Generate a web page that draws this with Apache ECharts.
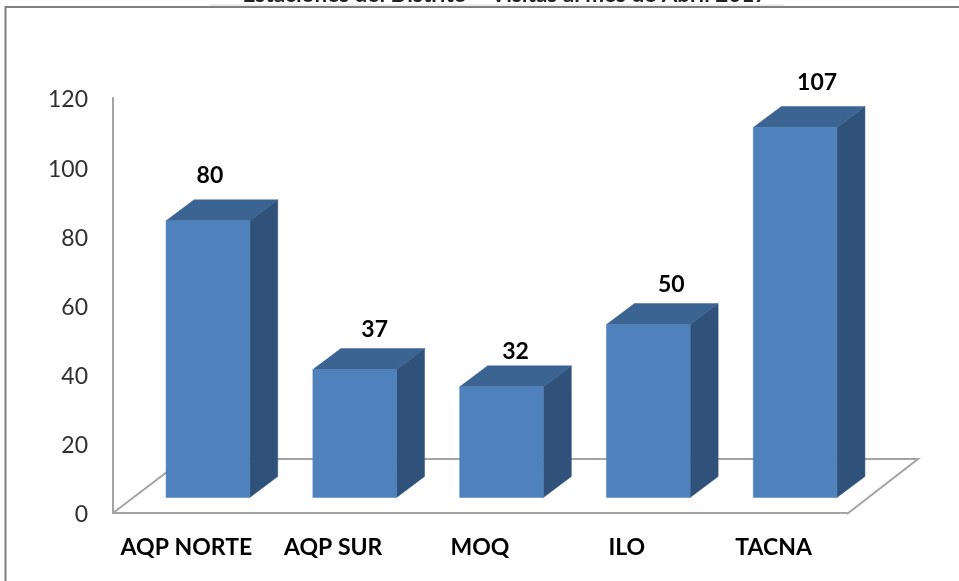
<!DOCTYPE html>
<html>
<head>
<meta charset="utf-8">
<style>html,body{margin:0;padding:0;background:#fff}#c{width:959px;height:581px}</style>
<script src="https://cdn.jsdelivr.net/npm/echarts@6/dist/echarts.min.js"></script>
</head>
<body>
<div id="c"></div>
<script>
const categories = ['AQP NORTE', 'AQP SUR', 'MOQ', 'ILO', 'TACNA'];
const values = [80, 37, 32, 50, 107];
const yTicks = {min: 0, max: 120, interval: 20};
const titleText = 'Estaciones del Distrito – Visitas al mes de Abril 2017';

// presentation constants
const FONT = 'Lato, "Open Sans", sans-serif';
const labelNudgeX = [2, 20, 14, 23, 22];
const labelGapY = [45, 40, 35, 40, 45];
const BAR_OFFSET_X = 21.5, BAR_LIFT = 15.5, BAR_RATIO = 0.57, DEPTH_X = 28, DEPTH_Y = 21;
const FLOOR_DX = 71, FLOOR_DY = 54;
const COL_FRONT = '#4f81bd', COL_TOP = '#3b6492', COL_SIDE = '#30527a';

function poly(points, fill) {
  return {type: 'polygon', shape: {points}, style: {fill, stroke: fill, lineWidth: 0.5}};
}

function renderBar(params, api) {
  const i = api.value(0), v = api.value(1);
  const top = api.coord([i, v]), base = api.coord([i, 0]);
  const w = api.size([1, 0])[0] * BAR_RATIO;
  const x0 = base[0] + BAR_OFFSET_X - w / 2, x1 = x0 + w;
  const yb = base[1] - BAR_LIFT, yt = top[1] - BAR_LIFT;
  return {
    type: 'group',
    children: [
      poly([[x1, yt], [x1 + DEPTH_X, yt - DEPTH_Y], [x1 + DEPTH_X, yb - DEPTH_Y], [x1, yb]], COL_SIDE),
      poly([[x0, yt], [x0 + DEPTH_X, yt - DEPTH_Y], [x1 + DEPTH_X, yt - DEPTH_Y], [x1, yt]], COL_TOP),
      poly([[x0, yt], [x1, yt], [x1, yb], [x0, yb]], COL_FRONT),
      {
        type: 'text',
        style: {
          text: String(v),
          x: base[0] + BAR_OFFSET_X + labelNudgeX[i],
          y: yt - labelGapY[i],
          align: 'center', verticalAlign: 'middle',
          font: 'bold 23px ' + FONT,
          fill: '#000'
        }
      }
    ]
  };
}

function renderFloor(params) {
  const c = params.coordSys;
  const xl = c.x, xr = c.x + c.width, y = c.y + c.height;
  return {
    type: 'polyline',
    shape: {points: [[xl, y], [xl + FLOOR_DX, y - FLOOR_DY], [xr + FLOOR_DX, y - FLOOR_DY], [xr, y + 1]]},
    style: {stroke: '#a3a3a3', lineWidth: 2, fill: null}
  };
}

const chart = echarts.init(document.getElementById('c'), null, {renderer: 'canvas'});
chart.setOption({
  animation: false,
  backgroundColor: '#fff',
  title: {
    text: titleText,
    left: 500, textAlign: 'center', top: -22,
    textStyle: {fontFamily: FONT, fontSize: 22.5, fontWeight: 'bold', color: '#222'}
  },
  grid: {left: 113, width: 734, top: 98, height: 415},
  xAxis: {
    type: 'category',
    data: categories,
    axisTick: {show: false},
    axisLine: {lineStyle: {color: '#a3a3a3', width: 2}},
    axisLabel: {fontFamily: FONT, fontSize: 23, fontWeight: 'bold', color: '#000', margin: 23, interval: 0}
  },
  yAxis: {
    type: 'value',
    min: yTicks.min, max: yTicks.max, interval: yTicks.interval,
    splitLine: {show: false},
    axisTick: {show: false},
    axisLine: {show: true, lineStyle: {color: '#a3a3a3', width: 2}},
    axisLabel: {
      margin: 25,
      formatter: '{a|{value}}',
      rich: {a: {fontFamily: FONT, fontSize: 23, color: '#2f2f2f', padding: [4, 0, 0, 0]}}
    }
  },
  graphic: [
    {type: 'rect', z: -1, shape: {x: 5.5, y: 7, width: 1000, height: 700},
     style: {fill: null, stroke: '#808080', lineWidth: 2}},
    {type: 'line', z: -1, shape: {x1: 209, y1: 5, x2: 784, y2: 5},
     style: {stroke: '#dcdcdc', lineWidth: 1}}
  ],
  series: [
    {type: 'custom', z: 1, renderItem: renderFloor, data: [0], silent: true},
    {type: 'custom', z: 2, renderItem: renderBar, silent: true,
     encode: {x: 0, y: 1},
     data: values.map((v, i) => [i, v])}
  ]
});
</script>
</body>
</html>
